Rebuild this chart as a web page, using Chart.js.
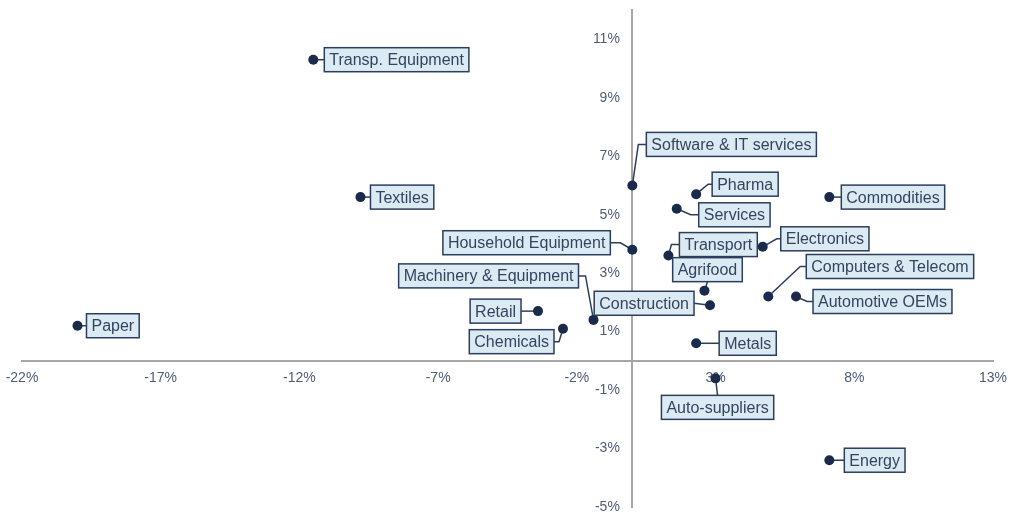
<!DOCTYPE html>
<html>
<head>
<meta charset="utf-8">
<script src="https://cdn.jsdelivr.net/npm/chart.js@4/dist/chart.umd.min.js"></script>
<style>
  html, body { margin: 0; padding: 0; background: #fff; }
  #wrap { width: 1011px; height: 531px; position: relative; }
</style>
</head>
<body>
<div id="wrap"><canvas id="scatter"></canvas></div>
<script>
const sectors = [
  'Transp. Equipment', 'Textiles', 'Paper', 'Software & IT services', 'Pharma',
  'Services', 'Commodities', 'Electronics', 'Household Equipment', 'Transport',
  'Agrifood', 'Machinery & Equipment', 'Construction', 'Retail', 'Chemicals',
  'Computers & Telecom', 'Automotive OEMs', 'Metals', 'Auto-suppliers', 'Energy'
];
const growthX = [-11.5, -9.8, -20.0, 0.0, 2.3, 1.6, 7.1, 4.7, 0.0, 1.3, 2.6, -1.4, 2.8, -3.4, -2.5, 4.9, 5.9, 2.3, 3.0, 7.1];
const growthY = [10.3, 5.6, 1.2, 6.0, 5.7, 5.2, 5.6, 3.9, 3.8, 3.6, 2.4, 1.4, 1.9, 1.7, 1.1, 2.2, 2.2, 0.6, -0.6, -3.4];
const xTicks = [-22, -17, -12, -7, -2, 3, 8, 13];
const yTicks = [-5, -3, -1, 1, 3, 5, 7, 9, 11];

// where each label box sits relative to its dot: [dx, dy, side, elbow]
// side: l = box to the right, r = box to the left, b = box above, t = box below
const labelPlace = [
  [11, 0, 'l', 0], [10, 0, 'l', 0], [9, 0, 'l', 0], [14, -41, 'l', 8], [16, -10, 'l', 4],
  [22, 6, 'l', 8], [12, 0, 'l', 0], [18, -8, 'l', 4], [-22, -7, 'r', 10], [11, -11, 'l', 8],
  [3, -9, 'b', 0], [-15, -44, 'r', 7], [-16, -2, 'r', 0], [-17, 0, 'r', 0], [-9, 13, 'r', 5],
  [38, -30, 'l', 6], [17, 5, 'l', 6], [23, 0, 'l', 0], [2, 17, 't', 0], [15, 0, 'l', 0]
];

const FONT = '16px "Liberation Sans", Arial, sans-serif';
const BOX_H = 24;
const PAD = 5;

function labelBox(ctx, pt, i) {
  const [dx, dy, side, elbow] = labelPlace[i];
  const w = ctx.measureText(sectors[i]).width + PAD * 2;
  const ax = pt.x + dx, ay = pt.y + dy;
  let x, y;
  if (side === 'l') { x = ax; y = ay - BOX_H / 2; }
  else if (side === 'r') { x = ax - w; y = ay - BOX_H / 2; }
  else if (side === 'b') { x = ax - w / 2; y = ay - BOX_H; }
  else { x = ax - w / 2; y = ay; }
  return { ax, ay, side, elbow, x, y, w };
}

const sectorLabels = {
  id: 'sectorLabels',
  beforeDatasetsDraw(chart) {
    const ctx = chart.ctx;
    const pts = chart.getDatasetMeta(0).data;
    ctx.save();
    ctx.font = FONT;
    ctx.strokeStyle = '#2c3e5c';
    ctx.lineWidth = 1.5;
    pts.forEach((pt, i) => {
      const b = labelBox(ctx, pt, i);
      ctx.beginPath();
      ctx.moveTo(pt.x, pt.y);
      if (b.side === 'l') ctx.lineTo(b.ax - b.elbow, b.ay);
      if (b.side === 'r') ctx.lineTo(b.ax + b.elbow, b.ay);
      ctx.lineTo(b.ax, b.ay);
      ctx.stroke();
    });
    ctx.restore();
  },
  afterDatasetsDraw(chart) {
    const ctx = chart.ctx;
    const pts = chart.getDatasetMeta(0).data;
    ctx.save();
    ctx.font = FONT;
    ctx.textBaseline = 'middle';
    ctx.textAlign = 'left';
    pts.forEach((pt, i) => {
      const b = labelBox(ctx, pt, i);
      ctx.fillStyle = '#dcebf3';
      ctx.fillRect(b.x, b.y, b.w, BOX_H);
      ctx.strokeStyle = '#2c3e5c';
      ctx.lineWidth = 1.5;
      ctx.strokeRect(b.x, b.y, b.w, BOX_H);
      ctx.fillStyle = '#34445f';
      ctx.fillText(sectors[i], b.x + PAD, b.y + BOX_H / 2 + 1);
    });
    ctx.restore();
  }
};

const tickFont = { family: '"Liberation Sans", Arial, sans-serif', size: 14 };
const noGrid = { color: 'transparent', drawTicks: false };
const pct = v => v + '%';

new Chart(document.getElementById('scatter'), {
  type: 'scatter',
  data: {
    datasets: [{
      data: growthX.map((x, i) => ({ x, y: growthY[i] })),
      pointRadius: 5,
      pointHoverRadius: 5,
      pointBackgroundColor: '#1a2a4a',
      pointBorderWidth: 0
    }]
  },
  options: {
    responsive: true,
    maintainAspectRatio: false,
    animation: false,
    layout: { padding: { left: 22, right: 18, top: 10, bottom: 24 } },
    plugins: { legend: { display: false }, tooltip: { enabled: false } },
    scales: {
      x: {
        type: 'linear',
        min: -22,
        max: 13,
        position: { y: 0 },
        afterFit: s => { s.height = 0; s.paddingLeft = 0; s.paddingRight = 0; },
        afterBuildTicks: s => { s.ticks = xTicks.map(v => ({ value: v })); },
        grid: noGrid,
        border: { color: '#a6a6a6', width: 2 },
        ticks: { padding: 9, color: '#4f5d7a', font: tickFont, maxRotation: 0, callback: pct }
      },
      // axis line through x = 0
      y: {
        type: 'linear',
        min: -5,
        max: 12,
        position: { x: 0 },
        afterFit: s => { s.width = 0; s.paddingTop = 0; s.paddingBottom = 0; },
        grid: noGrid,
        border: { color: '#a6a6a6', width: 2 },
        ticks: { display: false }
      },
      // percentage labels just left of the axis line
      yl: {
        type: 'linear',
        min: -5,
        max: 12,
        position: { x: -0.45 },
        afterFit: s => { s.width = 0; s.paddingTop = 0; s.paddingBottom = 0; },
        afterBuildTicks: s => { s.ticks = yTicks.map(v => ({ value: v })); },
        grid: noGrid,
        border: { display: false },
        ticks: { color: '#4f5d7a', font: tickFont, callback: pct }
      }
    }
  },
  plugins: [sectorLabels]
});
</script>
</body>
</html>
